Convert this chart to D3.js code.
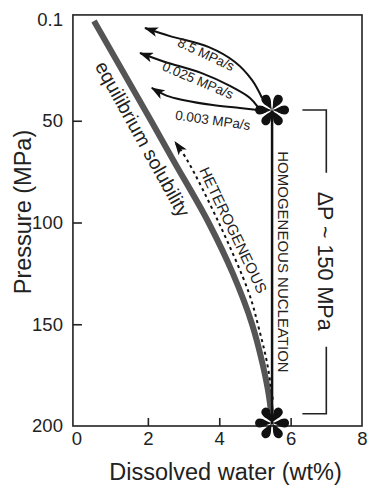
<!DOCTYPE html>
<html>
<head>
<meta charset="utf-8">
<script src="https://cdn.jsdelivr.net/npm/d3@7"></script>
<style>
  body { margin: 0; background: #fff; }
  svg text { font-family: "Liberation Sans", Arial, Helvetica, sans-serif; fill: #222; }
</style>
</head>
<body>
<div id="chart"></div>
<script>
// equilibrium solubility curve (wt%, MPa)
var solWater = [0.49, 2.09, 2.70, 3.70, 4.38, 4.92, 5.22, 5.39, 5.45];
var solPress = [1, 50, 69, 100, 125, 150, 170, 185, 193];

// heterogeneous nucleation path (bottom -> top)
var hetWater = [5.50, 5.34, 5.11, 4.83, 3.99, 3.10, 2.76];
var hetPress = [187, 169, 152, 134.6, 100.2, 69.3, 60.4];

// homogeneous nucleation: start / end
var homWater = 5.48;
var homPress = [199, 45];

// decompression rate paths from the upper star
var rateLabels = ["8.5 MPa/s", "0.025 MPa/s", "0.003 MPa/s"];
var rateWater = [
  [5.20, 4.92, 4.44, 3.71, 2.62, 1.92],
  [5.08, 4.86, 4.30, 3.49, 2.48, 1.78],
  [5.08, 4.58, 3.82, 2.98, 2.54, 2.11]
];
var ratePress = [
  [38.8, 30.0, 21.1, 13.8, 8.4, 4.4],
  [43.2, 38.8, 32.9, 26.5, 21.1, 16.7],
  [44.7, 43.7, 42.3, 39.8, 37.8, 33.9]
];
var rateLabelWater = [3.63, 3.40, 3.82];
var rateLabelPress = [17.4, 30.2, 49.8];
var rateLabelAngle = [25, 23, 8];

// bubble stars
var starWater = [5.48, 5.48];
var starPress = [44.7, 198.5];

var xTicks = [0, 2, 4, 6, 8];
var yTicks = [0.1, 50, 100, 150, 200];

var width = 382, height = 492;

var x = d3.scaleLinear().domain([0, 8]).range([76.5, 362]);
var y = d3.scaleLinear().domain([0, 200]).range([19, 426]);

var svg = d3.select("#chart").append("svg")
    .attr("width", width)
    .attr("height", height);

var defs = svg.append("defs");
defs.append("marker")
    .attr("id", "arrow")
    .attr("viewBox", "0 0 14 10")
    .attr("refX", 13)
    .attr("refY", 5)
    .attr("markerWidth", 14)
    .attr("markerHeight", 10)
    .attr("markerUnits", "userSpaceOnUse")
    .attr("orient", "auto")
    .append("path")
    .attr("d", "M0,0 L14,5 L0,10 L3.5,5 Z")
    .attr("fill", "#111");

// frame
svg.append("rect")
    .attr("x", x(-0.1))
    .attr("y", y(-2))
    .attr("width", x(8) - x(-0.1))
    .attr("height", y(200) - y(-2))
    .attr("fill", "none")
    .attr("stroke", "#222")
    .attr("stroke-width", 1.6);

// axes (ticks inward)
var xAxis = svg.append("g")
    .attr("transform", "translate(0," + y(200) + ")")
    .call(d3.axisBottom(x).tickValues(xTicks).tickSize(-8).tickPadding(10).tickFormat(d3.format("d")));
var yAxis = svg.append("g")
    .attr("transform", "translate(" + x(-0.1) + ",0)")
    .call(d3.axisLeft(y).tickValues(yTicks).tickSize(-9).tickPadding(10).tickFormat(function(d) { return d; }));

[xAxis, yAxis].forEach(function(g) {
  g.select(".domain").remove();
  g.selectAll(".tick line").attr("stroke", "#222").attr("stroke-width", 1.6);
  g.selectAll(".tick text").attr("font-size", 18.5).attr("fill", "#222");
});
xAxis.selectAll(".tick").filter(function(d) { return d === 0 || d === 8; }).select("line").remove();
yAxis.selectAll(".tick").filter(function(d) { return d === 0.1 || d === 200; }).select("line").remove();
xAxis.selectAll(".tick text").attr("dy", "0.71em").attr("y", 6);

svg.append("text")
    .attr("x", 225.5)
    .attr("y", 480)
    .attr("text-anchor", "middle")
    .attr("font-size", 23.5)
    .text("Dissolved water (wt%)");

svg.append("text")
    .attr("transform", "translate(31,212) rotate(-90)")
    .attr("text-anchor", "middle")
    .attr("font-size", 23.5)
    .text("Pressure (MPa)");

var line = d3.line()
    .x(function(d) { return x(d[0]); })
    .y(function(d) { return y(d[1]); })
    .curve(d3.curveMonotoneY);

var curvy = d3.line()
    .x(function(d) { return x(d[0]); })
    .y(function(d) { return y(d[1]); })
    .curve(d3.curveCatmullRom.alpha(0.5));

// equilibrium solubility
svg.append("path")
    .attr("d", line(d3.zip(solWater, solPress)))
    .attr("fill", "none")
    .attr("stroke", "#555")
    .attr("stroke-width", 6);

// heterogeneous
svg.append("path")
    .attr("d", curvy(d3.zip(hetWater, hetPress)))
    .attr("fill", "none")
    .attr("stroke", "#111")
    .attr("stroke-width", 2)
    .attr("stroke-dasharray", "3,3.5")
    .attr("marker-end", "url(#arrow)");

// homogeneous vertical
svg.append("line")
    .attr("x1", x(homWater)).attr("x2", x(homWater))
    .attr("y1", y(homPress[0])).attr("y2", y(homPress[1]))
    .attr("stroke", "#111")
    .attr("stroke-width", 2.5);

// rate paths
rateLabels.forEach(function(lbl, i) {
  svg.append("path")
      .attr("d", curvy(d3.zip(rateWater[i], ratePress[i])))
      .attr("fill", "none")
      .attr("stroke", "#111")
      .attr("stroke-width", 2)
      .attr("marker-end", "url(#arrow)");
  svg.append("text")
      .attr("transform", "translate(" + x(rateLabelWater[i]) + "," + y(rateLabelPress[i]) + ") rotate(" + rateLabelAngle[i] + ")")
      .attr("text-anchor", "middle")
      .attr("dominant-baseline", "central")
      .attr("font-size", 13.5)
      .text(lbl);
});

// stars
var petal = "M0,0 C5,-1 8,-4.5 12.5,-4.5 A4.5,4.5 0 0 1 12.5,4.5 C8,4.5 5,1 0,0 Z";
starWater.forEach(function(w, i) {
  var g = svg.append("g").attr("transform", "translate(" + x(w) + "," + y(starPress[i]) + ")");
  d3.range(6).forEach(function(k) {
    g.append("path")
        .attr("d", petal)
        .attr("transform", "rotate(" + (k * 60) + ")")
        .attr("fill", "#111");
  });
});

// labels along curves
svg.append("text")
    .attr("transform", "translate(" + x(1.86) + "," + y(58.9) + ") rotate(61)")
    .attr("text-anchor", "middle")
    .attr("dominant-baseline", "central")
    .attr("font-size", 19.5)
    .text("equilibrium solubility");

svg.append("text")
    .attr("transform", "translate(" + x(4.40) + "," + y(103.7) + ") rotate(64.5)")
    .attr("text-anchor", "middle")
    .attr("dominant-baseline", "central")
    .attr("font-size", 15)
    .text("HETEROGENEOUS");

svg.append("text")
    .attr("transform", "translate(" + x(5.81) + "," + y(119.4) + ") rotate(90)")
    .attr("text-anchor", "middle")
    .attr("dominant-baseline", "central")
    .attr("font-size", 15)
    .text("HOMOGENEOUS NUCLEATION");

// ΔP bracket
var bx = x(7.0), bl = x(6.33);
var bTop = y(44.7), bBot = y(194);
svg.append("path")
    .attr("d", "M" + bl + "," + bTop + "H" + bx + "V" + y(75.5) + "M" + bx + "," + y(161) + "V" + bBot + "H" + bl)
    .attr("fill", "none")
    .attr("stroke", "#222")
    .attr("stroke-width", 1.6);
svg.append("text")
    .attr("transform", "translate(" + (bx - 1) + "," + y(119) + ") rotate(90)")
    .attr("text-anchor", "middle")
    .attr("dominant-baseline", "central")
    .attr("font-size", 21.5)
    .text("ΔP ~ 150 MPa");
</script>
</body>
</html>
